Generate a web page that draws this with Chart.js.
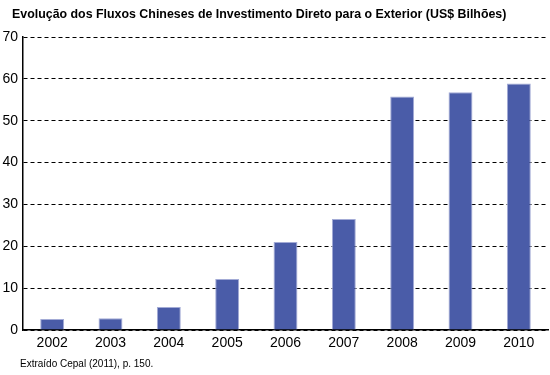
<!DOCTYPE html>
<html>
<head>
<meta charset="utf-8">
<script src="https://cdn.jsdelivr.net/npm/chart.js@4/dist/chart.umd.min.js"></script>
<style>
    html, body { margin: 0; padding: 0; background: #fff; }
    #grafico { display: block; }
</style>
</head>
<body>
<canvas id="grafico" width="550" height="375"></canvas>
<script>
// Dados do gráfico
const anos = ['2002', '2003', '2004', '2005', '2006', '2007', '2008', '2009', '2010'];
const fluxos = [2.6, 2.8, 5.5, 12.2, 21.0, 26.5, 55.8, 56.8, 58.9];
const titulo = 'Evolução dos Fluxos Chineses de Investimento Direto para o Exterior (US$ Bilhões)';
const fonte = 'Extraído Cepal (2011), p. 150.';

// Plugin para título e fonte (texto fixo fora da área do gráfico)
const textosPlugin = {
    id: 'textos',
    afterDraw(chart) {
        const ctx = chart.ctx;
        ctx.save();
        ctx.fillStyle = '#000';
        ctx.textBaseline = 'middle';
        ctx.textAlign = 'left';
        ctx.font = 'bold 12.4px "Liberation Sans", Arial, sans-serif';
        ctx.fillText(titulo, 12, 15);
        ctx.font = '10px "Liberation Sans", Arial, sans-serif';
        ctx.fillText(fonte, 20, 364);
        ctx.restore();
    }
};

function initializeChart() {
    new Chart(document.getElementById('grafico'), {
        type: 'bar',
        data: {
            labels: anos,
            datasets: [{
                data: fluxos,
                backgroundColor: '#4a5ca8',
                borderColor: '#a3abd6',
                borderWidth: 1,
                barPercentage: 0.41,
                categoryPercentage: 1
            }]
        },
        options: {
            responsive: false,
            animation: false,
            layout: {
                padding: { top: 37, right: 2, left: 0, bottom: 0 }
            },
            plugins: {
                legend: { display: false },
                tooltip: { enabled: false }
            },
            scales: {
                x: {
                    grid: { display: false, drawTicks: false },
                    border: { display: true, color: '#000', width: 1.5 },
                    ticks: {
                        color: '#000',
                        padding: 5,
                        font: { family: '"Liberation Sans", Arial, sans-serif', size: 14 }
                    },
                    afterFit(scale) { scale.height = 45; }
                },
                y: {
                    min: 0,
                    max: 70,
                    grid: {
                        color: '#000',
                        lineWidth: 1,
                        drawTicks: false
                    },
                    border: { display: true, color: '#000', width: 1.5, dash: [4, 3] },
                    ticks: {
                        stepSize: 10,
                        color: '#000',
                        padding: 5,
                        font: { family: '"Liberation Sans", Arial, sans-serif', size: 14 }
                    },
                    afterFit(scale) { scale.width = 23; }
                }
            }
        },
        plugins: [textosPlugin]
    });
}

window.addEventListener('load', initializeChart);
</script>
</body>
</html>
